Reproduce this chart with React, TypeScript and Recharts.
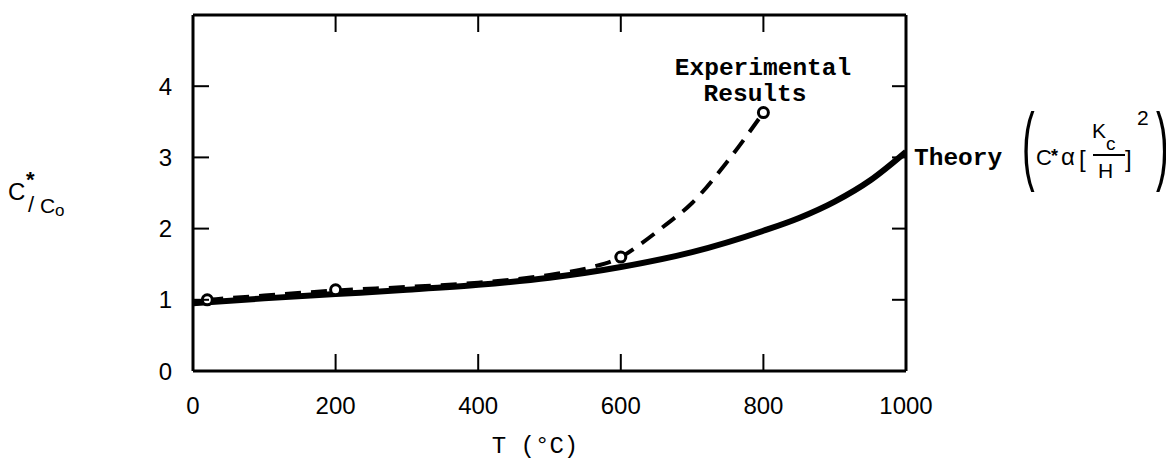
import { ComposedChart, Line, Scatter, XAxis, YAxis } from 'recharts';

// temperature (°C) vs C*/Co
const theoryT = [0, 100, 200, 300, 400, 500, 600, 700, 800, 850, 900, 950, 1000];
const theoryC = [0.95, 1.02, 1.08, 1.14, 1.21, 1.31, 1.46, 1.67, 1.97, 2.15, 2.38, 2.68, 3.08];

const expT = [20, 100, 200, 300, 400, 500, 560, 600, 630, 660, 700, 750, 800];
const expC = [1.0, 1.06, 1.13, 1.18, 1.24, 1.35, 1.46, 1.6, 1.8, 2.03, 2.36, 2.95, 3.63];

const pointT = [20, 200, 600, 800];
const pointC = [1.0, 1.14, 1.6, 3.63];

const xTicks = [0, 200, 400, 600, 800, 1000];
const xInnerTicks = [200, 400, 600, 800];
const yTicks = [0, 1, 2, 3, 4];
const yInnerTicks = [1, 2, 3, 4];

const theory = theoryT.map((t, i) => ({ t, c: theoryC[i] }));
const experimental = expT.map((t, i) => ({ t, c: expC[i] }));
const points = pointT.map((t, i) => ({ t, c: pointC[i] }));

const W = 1166;
const H = 454;
const sans = '"Liberation Sans", Arial, sans-serif';
const mono = '"Liberation Mono", "Courier New", monospace';

const X_MARGIN = 26;
const Y_MARGIN = 21;
const TICK_LEN = 17;

function OpenCircle(props: any) {
  const { cx, cy } = props;
  return <circle cx={cx} cy={cy} r={5} fill="#fff" stroke="#000" strokeWidth={3} />;
}

// bottom axis: label below, short tick pointing up into the plot
function BottomTick(props: any) {
  const { x, y, payload } = props;
  const axisY = y - X_MARGIN;
  return (
    <g>
      {xInnerTicks.includes(payload.value) && (
        <line x1={x} x2={x} y1={axisY} y2={axisY - TICK_LEN} stroke="#000" strokeWidth={2} />
      )}
      <text x={x} y={y} dy="0.71em" textAnchor="middle" fontFamily={sans} fontSize={24} fill="#000">
        {payload.value}
      </text>
    </g>
  );
}

function LeftTick(props: any) {
  const { x, y, payload } = props;
  const axisX = x + Y_MARGIN;
  return (
    <g>
      {yInnerTicks.includes(payload.value) && (
        <line x1={axisX} x2={axisX + 16} y1={y} y2={y} stroke="#000" strokeWidth={2} />
      )}
      <text x={x} y={y} dy="0.36em" textAnchor="end" fontFamily={sans} fontSize={24} fill="#000">
        {payload.value}
      </text>
    </g>
  );
}

function TopTick(props: any) {
  const { x, y } = props;
  return <line x1={x} x2={x} y1={y} y2={y + TICK_LEN} stroke="#000" strokeWidth={2} />;
}

function RightTick(props: any) {
  const { x, y } = props;
  return <line x1={x} x2={x - 14} y1={y} y2={y} stroke="#000" strokeWidth={2} />;
}

function Annotations() {
  // page coords minus the 8px body margin
  const o = 8;
  return (
    <svg
      width={W}
      height={H}
      style={{ position: 'absolute', left: 0, top: 0, pointerEvents: 'none' }}
    >
      {/* y axis label */}
      <text x={8 - o} y={200 - o} fontFamily={sans} fontSize={24}>C</text>
      <text x={26 - o} y={187 - o} fontFamily={sans} fontSize={22} fontWeight="bold">*</text>
      <text x={28 - o} y={212 - o} fontFamily={sans} fontSize={22}>/</text>
      <text x={40 - o} y={213 - o} fontFamily={sans} fontSize={21}>C</text>
      <text x={55 - o} y={216 - o} fontFamily={sans} fontSize={17}>o</text>

      {/* x axis label */}
      <text x={535 - o} y={453 - o} textAnchor="middle" fontFamily={mono} fontSize={24}>T (°C)</text>

      <text x={763 - o} y={75 - o} textAnchor="middle" fontFamily={mono} fontSize={24.5} fontWeight="bold">Experimental</text>
      <text x={755 - o} y={101 - o} textAnchor="middle" fontFamily={mono} fontSize={24.5} fontWeight="bold">Results</text>

      <text x={914 - o} y={165 - o} fontFamily={mono} fontSize={24.5} fontWeight="bold">Theory</text>

      {/* formula */}
      <text transform={`translate(${1022 - o},${174 - o}) scale(1,2.3)`} fontFamily={sans} fontSize={38}>(</text>
      <text x={1036 - o} y={165 - o} fontFamily={sans} fontSize={22}>C</text>
      <text x={1051 - o} y={162 - o} fontFamily={sans} fontSize={18} fontWeight="bold">*</text>
      <text x={1061 - o} y={165 - o} fontFamily={sans} fontSize={24}>α</text>
      <text x={1079 - o} y={167 - o} fontFamily={sans} fontSize={24}>[</text>
      <text x={1092 - o} y={138 - o} fontFamily={sans} fontSize={21}>K</text>
      <text x={1106 - o} y={150 - o} fontFamily={sans} fontSize={19}>c</text>
      <line x1={1093 - o} y1={155 - o} x2={1125 - o} y2={155 - o} stroke="#000" strokeWidth={2} />
      <text x={1098 - o} y={178 - o} fontFamily={sans} fontSize={21}>H</text>
      <text x={1125 - o} y={167 - o} fontFamily={sans} fontSize={24}>]</text>
      <text x={1137 - o} y={125 - o} fontFamily={sans} fontSize={21}>2</text>
      <text transform={`translate(${1156 - o},${174 - o}) scale(1,2.3)`} fontFamily={sans} fontSize={38}>)</text>
    </svg>
  );
}

export default function App() {
  const thick = { stroke: '#000', strokeWidth: 3 };
  return (
    <div style={{ position: 'relative', width: W, height: H, background: '#fff' }}>
      <ComposedChart width={W} height={H} margin={{ top: 7, right: 268, bottom: 31, left: 125 }}>
        <XAxis
          xAxisId="b"
          dataKey="t"
          type="number"
          domain={[0, 1000]}
          allowDataOverflow
          ticks={xTicks}
          interval={0}
          tick={<BottomTick />}
          tickLine={false}
          tickSize={0}
          tickMargin={X_MARGIN}
          axisLine={thick}
          height={60}
        />
        <XAxis
          xAxisId="t"
          dataKey="t"
          type="number"
          orientation="top"
          mirror
          domain={[0, 1000]}
          allowDataOverflow
          ticks={xInnerTicks}
          interval={0}
          tick={<TopTick />}
          tickLine={false}
          tickSize={0}
          tickMargin={0}
          axisLine={thick}
        />
        <YAxis
          yAxisId="l"
          type="number"
          domain={[0, 5]}
          allowDataOverflow
          ticks={yTicks}
          interval={0}
          tick={<LeftTick />}
          tickLine={false}
          tickSize={0}
          tickMargin={Y_MARGIN}
          axisLine={thick}
          width={60}
        />
        <YAxis
          yAxisId="r"
          type="number"
          orientation="right"
          mirror
          domain={[0, 5]}
          allowDataOverflow
          ticks={yInnerTicks}
          interval={0}
          tick={<RightTick />}
          tickLine={false}
          tickSize={0}
          tickMargin={0}
          axisLine={thick}
        />
        <Line
          xAxisId="b"
          yAxisId="l"
          data={theory}
          dataKey="c"
          type="monotone"
          stroke="#000"
          strokeWidth={6}
          dot={false}
          isAnimationActive={false}
        />
        <Line
          xAxisId="b"
          yAxisId="l"
          data={experimental}
          dataKey="c"
          type="monotone"
          stroke="#000"
          strokeWidth={4}
          strokeDasharray="16 10"
          dot={false}
          isAnimationActive={false}
        />
        <Scatter
          xAxisId="b"
          yAxisId="l"
          data={points}
          dataKey="c"
          shape={<OpenCircle />}
          isAnimationActive={false}
        />
      </ComposedChart>
      <Annotations />
    </div>
  );
}
